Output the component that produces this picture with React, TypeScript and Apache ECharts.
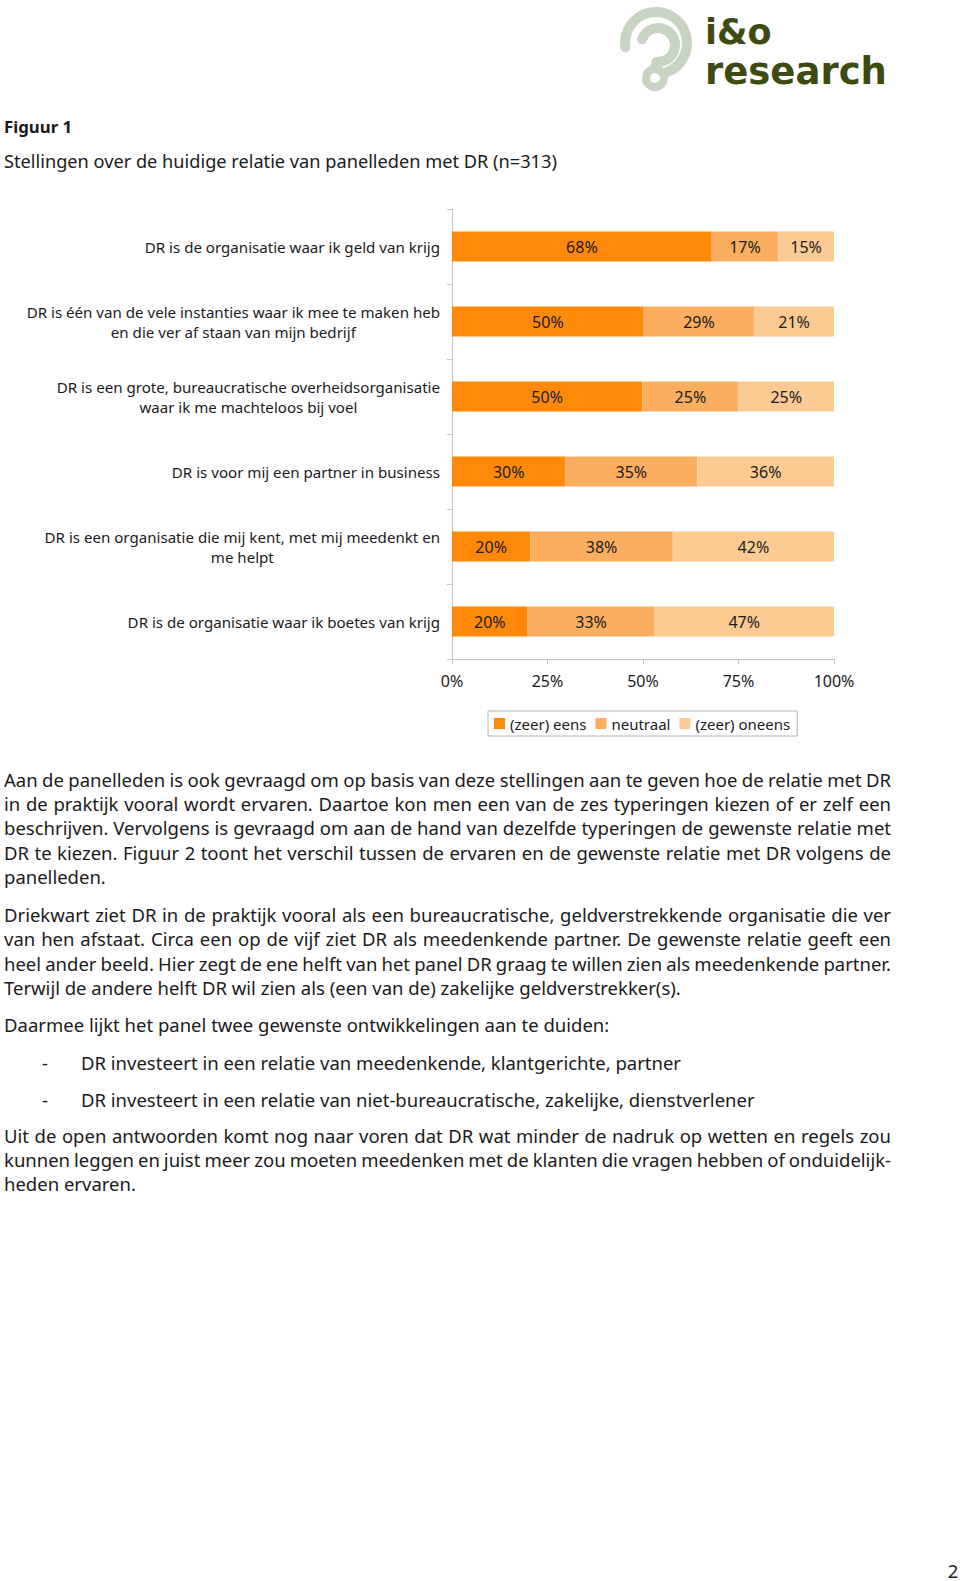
import React, { useEffect, useRef } from 'react';
import * as echarts from 'echarts';

// ---------- data ----------
const categories = [
  'DR is de organisatie waar ik geld van krijg',
  'DR is één van de vele instanties waar ik mee te maken heb\nen die ver af staan van mijn bedrijf',
  'DR is een grote, bureaucratische overheidsorganisatie\nwaar ik me machteloos bij voel',
  'DR is voor mij een partner in business',
  'DR is een organisatie die mij kent, met mij meedenkt en\nme helpt',
  'DR is de organisatie waar ik boetes van krijg',
];
const seriesNames = ['(zeer) eens', 'neutraal', '(zeer) oneens'];
const eensValues = [68.0, 50.2, 49.8, 29.7, 20.5, 19.8];
const neutraalValues = [17.4, 28.9, 25.2, 34.5, 37.3, 33.2];
const oneensValues = [14.6, 20.9, 25.0, 35.8, 42.2, 47.0];
const eensLabels = ['68%', '50%', '50%', '30%', '20%', '20%'];
const neutraalLabels = ['17%', '29%', '25%', '35%', '38%', '33%'];
const oneensLabels = ['15%', '21%', '25%', '36%', '42%', '47%'];
const xMin = 0;
const xMax = 100;
const xInterval = 25;

const figureLabel = 'Figuur 1';
const figureTitle = 'Stellingen over de huidige relatie van panelleden met DR (n=313)';
const pageNumber = '2';

const paragraph1 = [
  'Aan de panelleden is ook gevraagd om op basis van deze stellingen aan te geven hoe de relatie met DR',
  'in de praktijk vooral wordt ervaren. Daartoe kon men een van de zes typeringen kiezen of er zelf een',
  'beschrijven. Vervolgens is gevraagd om aan de hand van dezelfde typeringen de gewenste relatie met',
  'DR te kiezen. Figuur 2 toont het verschil tussen de ervaren en de gewenste relatie met DR volgens de',
  'panelleden.',
];
const paragraph2 = [
  'Driekwart ziet DR in de praktijk vooral als een bureaucratische, geldverstrekkende organisatie die ver',
  'van hen afstaat. Circa een op de vijf ziet DR als meedenkende partner. De gewenste relatie geeft een',
  'heel ander beeld. Hier zegt de ene helft van het panel DR graag te willen zien als meedenkende partner.',
  'Terwijl de andere helft DR wil zien als (een van de) zakelijke geldverstrekker(s).',
];
const paragraph3 = ['Daarmee lijkt het panel twee gewenste ontwikkelingen aan te duiden:'];
const bullets = [
  'DR investeert in een relatie van meedenkende, klantgerichte, partner',
  'DR investeert in een relatie van niet-bureaucratische, zakelijke, dienstverlener',
];
const paragraph4 = [
  'Uit de open antwoorden komt nog naar voren dat DR wat minder de nadruk op wetten en regels zou',
  'kunnen leggen en juist meer zou moeten meedenken met de klanten die vragen hebben of onduidelijk-',
  'heden ervaren.',
];

// ---------- styles ----------
const FONT = 'Noto Sans';
const TEXT = '#1a1a1a';
const C_EENS = '#FF8A0A';
const C_NEUTRAAL = '#FBAE60';
const C_ONEENS = '#FCCB94';
const AXIS = '#c4c4c4';
const LOGO_GREEN = '#C7D4C1';
const LOGO_OLIVE = '#3D4A12';

let measureCtx: CanvasRenderingContext2D | null = null;
function measure(text: string, font: string): number {
  if (!measureCtx) measureCtx = document.createElement('canvas').getContext('2d');
  measureCtx!.font = font;
  return measureCtx!.measureText(text).width;
}
// font size so that `text` is `target` px wide (clamped)
function fitSize(text: string, target: number, weight = 'normal', lo = 10, hi = 24): number {
  const w = measure(text, `${weight} 20px "${FONT}"`);
  if (!w) return (lo + hi) / 2;
  const s = (20 * target) / w;
  return Math.max(lo, Math.min(hi, Math.round(s * 10) / 10));
}

const BODY_LEFT = 4;
const BODY_RIGHT = 891;
const LINE_H = 24.2;

function buildOption(): any {
  const BODY_SIZE = fitSize(paragraph2[3], 678, 'normal', 15, 19);
  const TITLE_SIZE = fitSize(figureTitle, 552, 'normal', 16, 21);
  const FIG_SIZE = fitSize(figureLabel, 68, 'bold', 16, 21);
  const CAT_SIZE = fitSize(categories[0], 296, 'normal', 13, 16);
  const LEG_SIZE = fitSize(seriesNames[2], 95, 'normal', 13, 17);
  const NUM_SIZE = 16;

  const lineElements = (line: string, x0: number, y: number, justify: boolean): any[] => {
    const base = { fontSize: BODY_SIZE, fontFamily: FONT, fill: TEXT, align: 'left', verticalAlign: 'middle' };
    if (!justify) return [{ type: 'text', x: x0, y, style: { ...base, text: line } }];
    const font = `normal ${BODY_SIZE}px "${FONT}"`;
    const words = line.split(' ');
    const widths = words.map((w) => measure(w, font));
    const total = widths.reduce((a, b) => a + b, 0);
    const gap = words.length > 1 ? (BODY_RIGHT - x0 - total) / (words.length - 1) : 0;
    const out: any[] = [];
    let x = x0;
    words.forEach((w, i) => {
      out.push({ type: 'text', x, y, style: { ...base, text: w } });
      x += widths[i] + gap;
    });
    return out;
  };
  const paragraphElements = (lines: string[], y0: number): any[] => {
    const out: any[] = [];
    lines.forEach((l, i) => {
      out.push(...lineElements(l, BODY_LEFT, y0 + i * LINE_H, i !== lines.length - 1));
    });
    return out;
  };

  const mk = (name: string, data: number[], labels: string[], color: string) => ({
    type: 'bar',
    name,
    stack: 'total',
    data,
    barWidth: 30,
    itemStyle: { color },
    emphasis: { disabled: true },
    label: {
      show: true,
      position: 'inside',
      formatter: (p: any) => labels[p.dataIndex],
      color: TEXT,
      fontSize: NUM_SIZE,
      fontFamily: FONT,
    },
  });

  const graphics: any[] = [];

  // logo
  graphics.push(
    {
      type: 'arc',
      shape: { cx: 656, cy: 43, r: 31, startAngle: (172 * Math.PI) / 180, endAngle: ((360 + 69) * Math.PI) / 180, clockwise: true },
      style: { stroke: LOGO_GREEN, lineWidth: 10, fill: null, lineCap: 'round' },
    },
    {
      type: 'arc',
      shape: { cx: 658, cy: 45, r: 17, startAngle: (200 * Math.PI) / 180, endAngle: ((360 + 95) * Math.PI) / 180, clockwise: true },
      style: { stroke: LOGO_GREEN, lineWidth: 10, fill: null, lineCap: 'round' },
    },
    {
      type: 'line',
      shape: { x1: 656.5, y1: 62, x2: 655.5, y2: 68 },
      style: { stroke: LOGO_GREEN, lineWidth: 10 },
    },
    {
      type: 'circle',
      shape: { cx: 655, cy: 78, r: 9 },
      style: { stroke: LOGO_GREEN, lineWidth: 8, fill: null },
    },
    {
      type: 'text',
      x: 705,
      y: 32,
      style: { text: 'i&o', fontSize: 35, fontWeight: 'bold', fontFamily: 'DejaVu Sans', fill: LOGO_OLIVE, align: 'left', verticalAlign: 'middle' },
    },
    {
      type: 'text',
      x: 705,
      y: 71,
      style: { text: 'research', fontSize: 37, fontWeight: 'bold', fontFamily: 'DejaVu Sans', fill: LOGO_OLIVE, align: 'left', verticalAlign: 'middle' },
    }
  );

  // titles
  graphics.push(
    {
      type: 'text',
      x: 4,
      y: 126,
      style: { text: figureLabel, fontSize: FIG_SIZE, fontWeight: 'bold', fontFamily: FONT, fill: TEXT, align: 'left', verticalAlign: 'middle' },
    },
    {
      type: 'text',
      x: 4,
      y: 161,
      style: { text: figureTitle, fontSize: TITLE_SIZE, fontFamily: FONT, fill: TEXT, align: 'left', verticalAlign: 'middle' },
    }
  );

  // body text
  graphics.push(...paragraphElements(paragraph1, 779.5));
  graphics.push(...paragraphElements(paragraph2, 914.6));
  graphics.push(...paragraphElements(paragraph3, 1024.5));
  const bulletYs = [1062, 1099];
  bullets.forEach((b, i) => {
    graphics.push({
      type: 'text',
      x: 42,
      y: bulletYs[i],
      style: { text: '-', fontSize: BODY_SIZE, fontFamily: FONT, fill: TEXT, align: 'left', verticalAlign: 'middle' },
    });
    graphics.push(...lineElements(b, 81, bulletYs[i], false));
  });
  graphics.push(...paragraphElements(paragraph4, 1135.5));

  graphics.push({
    type: 'text',
    x: 953,
    y: 1570,
    style: { text: pageNumber, fontSize: BODY_SIZE, fontFamily: FONT, fill: TEXT, align: 'center', verticalAlign: 'middle' },
  });

  return {
    animation: false,
    backgroundColor: '#ffffff',
    grid: { left: 452, top: 209, width: 382, height: 450, containLabel: false },
    legend: {
      data: seriesNames,
      left: 488,
      top: 711,
      orient: 'horizontal',
      icon: 'rect',
      itemWidth: 11,
      itemHeight: 11,
      itemGap: 9,
      borderColor: '#b4b4b4',
      borderWidth: 1,
      borderRadius: 0,
      padding: [5, 7, 5, 6],
      selectedMode: false,
      textStyle: { fontSize: LEG_SIZE, fontFamily: FONT, color: TEXT },
    },
    xAxis: {
      type: 'value',
      min: xMin,
      max: xMax,
      interval: xInterval,
      axisLine: { show: true, lineStyle: { color: AXIS } },
      axisTick: { show: true, length: 5, lineStyle: { color: AXIS } },
      splitLine: { show: false },
      axisLabel: { formatter: '{value}%', margin: 14, fontSize: NUM_SIZE, fontFamily: FONT, color: TEXT },
    },
    yAxis: {
      type: 'category',
      data: categories,
      inverse: true,
      axisLine: { show: true, lineStyle: { color: AXIS } },
      axisTick: { show: true, length: 5, lineStyle: { color: AXIS } },
      axisLabel: {
        margin: 12,
        color: TEXT,
        fontSize: CAT_SIZE,
        fontFamily: FONT,
        lineHeight: 20,
        formatter: (v: string) =>
          v
            .split('\n')
            .map((l) => `{c|${l}}`)
            .join('\n'),
        rich: { c: { align: 'center', fontSize: CAT_SIZE, fontFamily: FONT, color: TEXT, lineHeight: 20 } },
      },
    },
    series: [
      mk(seriesNames[0], eensValues, eensLabels, C_EENS),
      mk(seriesNames[1], neutraalValues, neutraalLabels, C_NEUTRAAL),
      mk(seriesNames[2], oneensValues, oneensLabels, C_ONEENS),
    ],
    graphic: { elements: graphics },
  };
}

export default function App() {
  const ref = useRef<HTMLDivElement>(null);
  useEffect(() => {
    if (!ref.current) return;
    const chart = echarts.init(ref.current, null, { renderer: 'svg' });
    chart.setOption(buildOption());
    return () => chart.dispose();
  }, []);
  return (
    <div
      ref={ref}
      style={{ position: 'absolute', left: 0, top: 0, width: 960, height: 1581, background: '#ffffff' }}
    />
  );
}
